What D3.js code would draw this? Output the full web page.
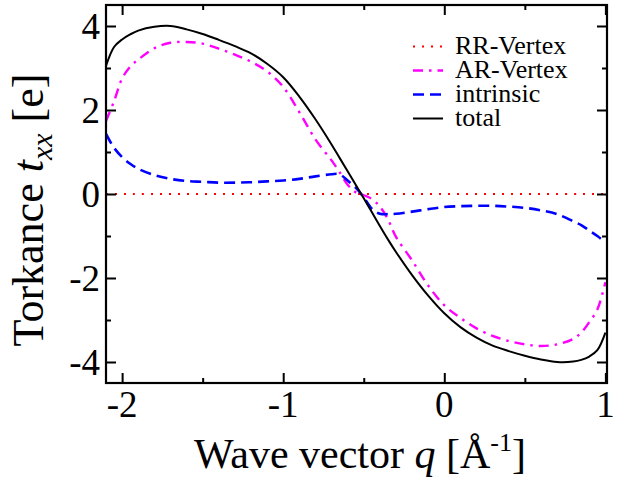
<!DOCTYPE html>
<html>
<head>
<meta charset="utf-8">
<script src="https://cdn.jsdelivr.net/npm/d3@7"></script>
<style>
html,body{margin:0;padding:0;background:#fff;}
svg{display:block;}
</style>
</head>
<body>
<svg id="chart" width="629" height="479"></svg>
<script>
// ---- data ----
const qValues = [-2.1,-2.05,-2.0,-1.95,-1.9,-1.8,-1.7,-1.6,-1.5,-1.4,-1.3,-1.2,-1.1,-1.0,-0.9,-0.8,-0.7,-0.65,-0.6,-0.55,-0.5,-0.45,-0.4,-0.35,-0.3,-0.2,-0.1,0,0.1,0.2,0.3,0.4,0.5,0.6,0.7,0.8,0.85,0.9,0.95,1.0];
const rrVertex = qValues.map(() => 0);
const arVertex = [1.74,2.21,2.75,3.03,3.2,3.47,3.6,3.62,3.58,3.46,3.32,3.15,2.92,2.55,1.95,1.3,0.8,0.52,0.22,0.04,-0.03,-0.12,-0.3,-0.6,-1.02,-1.58,-2.18,-2.65,-2.95,-3.2,-3.38,-3.5,-3.58,-3.62,-3.58,-3.45,-3.3,-3.05,-2.75,-2.1];
const intrinsic = [1.43,1.1,0.88,0.72,0.6,0.45,0.36,0.31,0.29,0.27,0.27,0.28,0.3,0.32,0.36,0.42,0.47,0.47,0.32,0.15,-0.08,-0.35,-0.47,-0.48,-0.47,-0.42,-0.36,-0.31,-0.29,-0.28,-0.28,-0.3,-0.33,-0.39,-0.48,-0.65,-0.74,-0.87,-1.0,-1.15];
const total = [3.05,3.5,3.68,3.80,3.89,3.98,4.0,3.92,3.81,3.67,3.52,3.35,3.1,2.78,2.32,1.78,1.18,0.86,0.54,0.22,-0.1,-0.43,-0.76,-1.08,-1.38,-1.93,-2.42,-2.84,-3.17,-3.42,-3.61,-3.74,-3.85,-3.94,-4.0,-3.99,-3.95,-3.87,-3.72,-3.3];
const seriesNames = ["RR-Vertex","AR-Vertex","intrinsic","total"];
const xMajorTicks = [-2,-1,0,1];
const xMinorTicks = [-1.5,-0.5,0.5];
const yMajorTicks = [-4,-2,0,2,4];
const yMinorTicks = [-3,-1,1,3];

// ---- layout ----
const FONT = "Liberation Serif";
const svg = d3.select("#chart");
const L = 106, R = 607, T = 5, B = 383;
const x = d3.scaleLinear().domain([-2.1, 1.01]).range([L, R]);
const y = d3.scaleLinear().domain([-4.5, 4.5]).range([B, T]);

const styles = [
  {color:"#ff0000", width:2.2, dash:"2,7"},
  {color:"#ff00ff", width:2.4, dash:"10,6,2.5,6"},
  {color:"#0000ff", width:2.6, dash:"11,6"},
  {color:"#000000", width:2, dash:null}
];
const seriesData = [rrVertex, arVertex, intrinsic, total];

svg.append("defs").append("clipPath").attr("id","clip")
  .append("rect").attr("x",L).attr("y",T).attr("width",R-L).attr("height",B-T);

const line = d3.line().x(d => x(d[0])).y(d => y(d[1])).curve(d3.curveCatmullRom.alpha(0.5));
const plot = svg.append("g").attr("clip-path","url(#clip)");
seriesData.forEach((vals, i) => {
  const pts = qValues.map((q, j) => [q, vals[j]]);
  const p = plot.append("path").datum(pts)
    .attr("d", line).attr("fill","none")
    .attr("stroke", styles[i].color).attr("stroke-width", styles[i].width);
  if (styles[i].dash) p.attr("stroke-dasharray", styles[i].dash);
});

// ---- axes (ticks inward on all sides) ----
function addAxis(axisFn, scale, ticks, size, transform) {
  const g = svg.append("g").attr("transform", transform)
    .call(axisFn(scale).tickValues(ticks).tickSize(size).tickFormat(""));
  g.select(".domain").remove();
  g.selectAll(".tick line").attr("stroke","#000").attr("stroke-width",2);
  return g;
}
addAxis(d3.axisTop, x, xMajorTicks, 10, `translate(0,${B})`);
addAxis(d3.axisTop, x, xMinorTicks, 5, `translate(0,${B})`);
addAxis(d3.axisBottom, x, xMajorTicks, 10, `translate(0,${T})`);
addAxis(d3.axisBottom, x, xMinorTicks, 5, `translate(0,${T})`);
addAxis(d3.axisRight, y, yMajorTicks, 10, `translate(${L},0)`);
addAxis(d3.axisRight, y, yMinorTicks, 5, `translate(${L},0)`);
addAxis(d3.axisLeft, y, yMajorTicks, 10, `translate(${R},0)`);
addAxis(d3.axisLeft, y, yMinorTicks, 5, `translate(${R},0)`);

svg.append("rect").attr("x",L).attr("y",T).attr("width",R-L).attr("height",B-T)
  .attr("fill","none").attr("stroke","#000").attr("stroke-width",2.2);

// tick labels
svg.append("g").selectAll("text").data(xMajorTicks).join("text")
  .attr("x", d => x(d)).attr("y", 417).attr("text-anchor","middle")
  .attr("font-family", FONT).attr("font-size", 37).attr("fill","#000").text(d => d);
svg.append("g").selectAll("text").data(yMajorTicks).join("text")
  .attr("x", 100).attr("y", d => y(d) + 13).attr("text-anchor","end")
  .attr("font-family", FONT).attr("font-size", 37).attr("fill","#000").text(d => d);

// axis titles
const xt = svg.append("text").attr("x", 360).attr("y", 468).attr("text-anchor","middle")
  .attr("font-family", FONT).attr("font-size", 42).attr("fill","#000");
xt.append("tspan").text("Wave vector ");
xt.append("tspan").attr("font-style","italic").text("q");
xt.append("tspan").text(" [Å");
xt.append("tspan").attr("font-size", 26).attr("dy", -17).text("-1");
xt.append("tspan").attr("dy", 17).text("]");

const yt = svg.append("text").attr("transform","translate(43,210) rotate(-90)")
  .attr("text-anchor","middle").attr("font-family", FONT).attr("font-size", 44).attr("fill","#000");
yt.append("tspan").text("Torkance ");
yt.append("tspan").attr("font-style","italic").text("t");
yt.append("tspan").attr("font-style","italic").attr("font-size", 30).attr("dy", 9).text("xx");
yt.append("tspan").attr("dy", -9).text(" [e]");

// legend
const legY = [54, 78, 102, 126];
const leg = svg.append("g");
seriesNames.forEach((name, i) => {
  const ly = legY[i] - 7.5;
  const l = leg.append("line").attr("x1", 413).attr("x2", 443).attr("y1", ly).attr("y2", ly)
    .attr("stroke", styles[i].color).attr("stroke-width", styles[i].width);
  if (styles[i].dash) l.attr("stroke-dasharray", styles[i].dash);
  leg.append("text").attr("x", 455).attr("y", legY[i])
    .attr("font-family", FONT).attr("font-size", 26).attr("fill","#000").text(name);
});
</script>
</body>
</html>
